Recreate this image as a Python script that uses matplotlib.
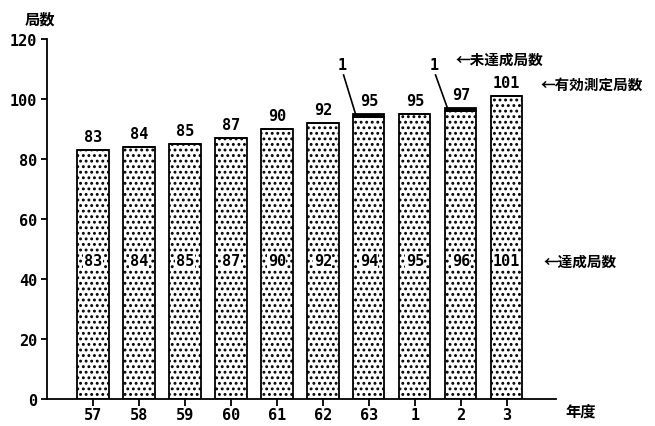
import numpy as np
import matplotlib.pyplot as plt

# data
years = ['57', '58', '59', '60', '61', '62', '63', '1', '2', '3']
achieved = [83, 84, 85, 87, 90, 92, 94, 95, 96, 101]
not_achieved = [0, 0, 0, 0, 0, 0, 1, 0, 1, 0]
total = [a + n for a, n in zip(achieved, not_achieved)]

jp = ['Noto Sans CJK JP', 'DejaVu Sans']
num_font = dict(family='DejaVu Sans Mono', weight='bold', fontsize=11)

plt.rcParams['hatch.linewidth'] = 1.3

fig = plt.figure(figsize=(6.55, 4.27), dpi=100)
ax = fig.add_axes([47 / 655, 27 / 427, 509 / 655, 360 / 427])

x = np.arange(len(years))
ax.bar(x, achieved, width=0.68, color='white', edgecolor='black',
       linewidth=1.3, hatch='...')
ax.bar(x, not_achieved, width=0.68, bottom=achieved, color='black',
       edgecolor='black', linewidth=1.3)

# value labels
for i in range(len(years)):
    ax.text(x[i], total[i] + 2, str(total[i]), ha='center', va='bottom', **num_font)
    ax.text(x[i], 46, str(achieved[i]), ha='center', va='center',
            bbox=dict(facecolor='white', edgecolor='none', pad=0.3), **num_font)

# leader lines for the 'not achieved' labels
for i in range(len(years)):
    if not_achieved[i] > 0:
        top = total[i]
        ax.plot([x[i] - 0.55, x[i] - 0.28], [108, top - 0.5], color='black', lw=1.2)
        ax.text(x[i] - 0.57, 109, str(not_achieved[i]), ha='center', va='bottom',
                **num_font)

ax.set_xlim(-1, 10.07)
ax.set_ylim(0, 120)
ax.set_yticks(range(0, 121, 20))
ax.set_xticks(x)
ax.set_xticklabels(years)
for lab in ax.get_xticklabels() + ax.get_yticklabels():
    lab.set_fontfamily('DejaVu Sans Mono')
    lab.set_fontweight('bold')
    lab.set_fontsize(11)
ax.tick_params(axis='both', direction='out', length=4, width=1.3, pad=3)
ax.tick_params(axis='x', length=5, pad=1)
ax.spines['top'].set_visible(False)
ax.spines['right'].set_visible(False)
ax.spines['left'].set_linewidth(1.3)
ax.spines['bottom'].set_linewidth(1.3)

fig.text(25 / 655, 1 - 20 / 427, '局数', family=jp, weight='bold', fontsize=11,
         va='center')
fig.text(565 / 655, 1 - 412 / 427, '年度', family=jp, weight='bold', fontsize=11,
         va='center')
fig.text(455 / 655, 1 - 60 / 427, '←未達成局数', family=jp, weight='bold',
         fontsize=10.5, va='center')
fig.text(540 / 655, 1 - 85 / 427, '←有効測定局数', family=jp, weight='bold',
         fontsize=10.5, va='center')
fig.text(543 / 655, 1 - 262 / 427, '←達成局数', family=jp, weight='bold',
         fontsize=10.5, va='center')

fig.savefig('out.png', dpi=100)
